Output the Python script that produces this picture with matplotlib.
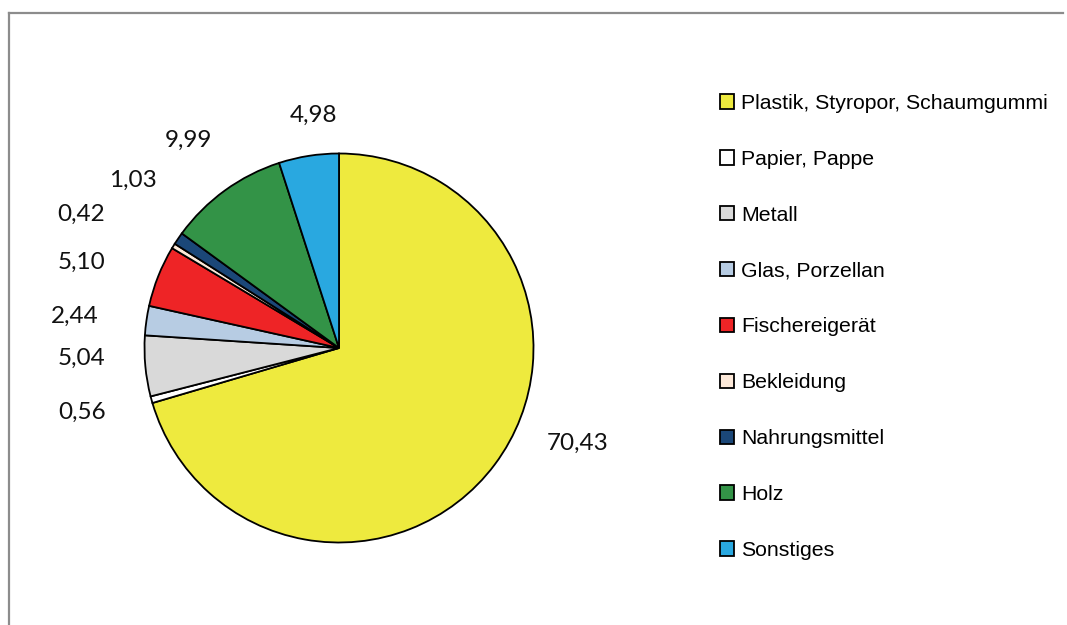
import matplotlib
matplotlib.use("Agg")
import matplotlib.pyplot as plt
from matplotlib.lines import Line2D

# Anteile der Müllkategorien in Prozent
kategorien = ["Plastik, Styropor, Schaumgummi", "Papier, Pappe", "Metall",
              "Glas, Porzellan", "Fischereigerät", "Bekleidung",
              "Nahrungsmittel", "Holz", "Sonstiges"]
anteile = [70.43, 0.56, 5.04, 2.44, 5.10, 0.42, 1.03, 9.99, 4.98]
farben = ["#eeea3e", "#ffffff", "#d9d9d9", "#b7cce3", "#ee2426",
          "#fde9d9", "#1b4778", "#339347", "#29a8e0"]

# Lage der Werte-Beschriftungen (Pixel, von oben gemessen)
label_pos = [(578, 443), (82, 412), (82, 358), (75, 316), (82, 262),
             (81, 214), (133, 180), (188, 140), (313, 115)]

W, H = 1067, 625
fig = plt.figure(figsize=(W / 100, H / 100), dpi=100)
ax = fig.add_axes([0, 0, 1, 1])

wedges, _ = ax.pie(anteile, colors=farben, startangle=90, counterclock=False,
                   center=(339, H - 348), radius=194.5,
                   wedgeprops={"edgecolor": "black", "linewidth": 1.3})
ax.set_xlim(0, W)
ax.set_ylim(0, H)
ax.set_aspect("equal")
ax.axis("off")

for val, (x, y) in zip(anteile, label_pos):
    ax.text(x, H - y, f"{val:.2f}".replace(".", ","), ha="center", va="center",
            fontsize=17.5, family="Lato", color="#111111")

leg = ax.legend(wedges, kategorien, loc="upper left",
                bbox_to_anchor=(720 / W, 1 - 94 / H), frameon=False,
                prop={"family": "Liberation Sans", "size": 15.3},
                handlelength=0.66, handleheight=0.66, handletextpad=0.33,
                labelspacing=1.735, borderpad=0, borderaxespad=0)

# grauer Rahmen oben und links
fig.add_artist(Line2D([9 / W, 1063 / W], [1 - 13 / H, 1 - 13 / H],
                      color="#8c8c8c", lw=1.6, transform=fig.transFigure))
fig.add_artist(Line2D([9 / W, 9 / W], [0, 1 - 13 / H],
                      color="#8c8c8c", lw=1.6, transform=fig.transFigure))

fig.savefig("out.png", dpi=100)
